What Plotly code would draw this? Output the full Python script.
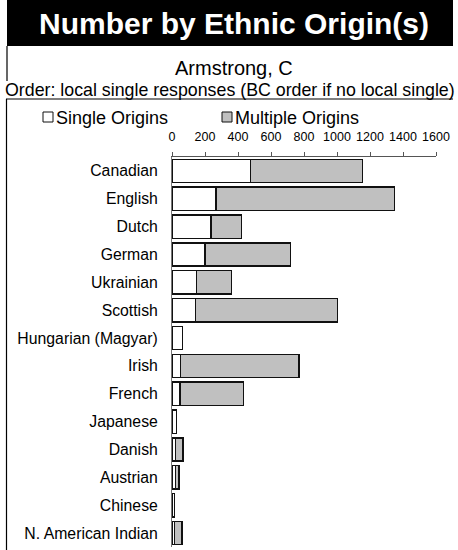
import plotly.graph_objects as go

categories = ["Canadian", "English", "Dutch", "German", "Ukrainian", "Scottish",
              "Hungarian (Magyar)", "Irish", "French", "Japanese", "Danish",
              "Austrian", "Chinese", "N. American Indian"]
single_origins = [475, 268, 236, 200, 149, 141, 64, 52, 48, 27, 20, 20, 15, 15]
multiple_origins = [680, 1079, 186, 519, 212, 861, 0, 719, 384, 0, 47, 22, 0, 45]
x_ticks = [0, 200, 400, 600, 800, 1000, 1200, 1400, 1600]

W_PX, H_PX = 458, 550
ML, MR, MT, MB = 172, 22, 157, 3
PW = W_PX - ML - MR
PH = H_PX - MT - MB


def px(x):
    return (x - ML) / PW


def py(y):
    return 1 - (y - MT) / PH


FONT = "Arial, Liberation Sans, sans-serif"

fig = go.Figure()
fig.add_trace(go.Bar(
    y=categories, x=single_origins, orientation="h", name="Single Origins",
    marker=dict(color="#FFFFFF", line=dict(color="#111111", width=1.5)),
    showlegend=False,
))
fig.add_trace(go.Bar(
    y=categories, x=multiple_origins, orientation="h", name="Multiple Origins",
    marker=dict(color="#C0C0C0", line=dict(color="#111111", width=1.5)),
    showlegend=False,
))

shapes = [
    dict(type="rect", xref="paper", yref="paper", x0=px(7), x1=px(453), y0=py(0), y1=py(46),
         fillcolor="#000000", line=dict(width=0), layer="below"),
    dict(type="line", xref="paper", yref="paper", x0=px(7), x1=px(7), y0=py(46), y1=py(81),
         line=dict(color="#000000", width=1.2)),
    dict(type="line", xref="paper", yref="paper", x0=px(6), x1=px(453), y0=py(99), y1=py(99),
         line=dict(color="#000000", width=1.2)),
    dict(type="line", xref="paper", yref="paper", x0=px(6.5), x1=px(6.5), y0=py(99), y1=py(550),
         line=dict(color="#000000", width=1.2)),
    # legend boxes
    dict(type="rect", xref="paper", yref="paper", x0=px(43), x1=px(53), y0=py(112), y1=py(122),
         fillcolor="#FFFFFF", line=dict(color="#111111", width=1)),
    dict(type="rect", xref="paper", yref="paper", x0=px(222), x1=px(232), y0=py(112), y1=py(122),
         fillcolor="#C0C0C0", line=dict(color="#111111", width=1)),
]

annotations = [
    dict(text="<b>Number by Ethnic Origin(s)</b>", x=px(234), y=py(24), xref="paper", yref="paper",
         xanchor="center", yanchor="middle", showarrow=False,
         font=dict(family=FONT, size=30, color="#FFFFFF")),
    dict(text="Armstrong, C", x=px(234), y=py(68), xref="paper", yref="paper",
         xanchor="center", yanchor="middle", showarrow=False,
         font=dict(family=FONT, size=20, color="#000000")),
    dict(text="Order: local single responses (BC order if no local single)", x=px(229.5), y=py(90),
         xref="paper", yref="paper", xanchor="center", yanchor="middle", showarrow=False,
         font=dict(family=FONT, size=17.8, color="#000000")),
    dict(text="Single Origins", x=px(54), y=py(118), xref="paper", yref="paper",
         xanchor="left", yanchor="middle", showarrow=False,
         font=dict(family=FONT, size=18, color="#000000")),
    dict(text="Multiple Origins", x=px(233), y=py(118), xref="paper", yref="paper",
         xanchor="left", yanchor="middle", showarrow=False,
         font=dict(family=FONT, size=18, color="#000000")),
]

fig.update_layout(
    width=W_PX, height=H_PX,
    margin=dict(l=ML, r=MR, t=MT, b=MB, pad=0),
    paper_bgcolor="#FFFFFF", plot_bgcolor="#FFFFFF",
    barmode="stack", bargap=0.165,
    shapes=shapes, annotations=annotations,
    font=dict(family=FONT, color="#000000"),
    xaxis=dict(range=[0, 1600], side="top", tickvals=x_ticks,
               ticktext=[str(v) for v in x_ticks],
               showgrid=False, zeroline=False, showline=True, linecolor="#555555", linewidth=1,
               ticks="outside", ticklen=4, tickcolor="#555555", ticklabelstandoff=6,
               tickfont=dict(family=FONT, size=12.5, color="#000000")),
    yaxis=dict(categoryorder="array", categoryarray=categories, autorange="reversed",
               showgrid=False, zeroline=False, showline=True, linecolor="#777777", linewidth=1,
               ticks="", ticklabelstandoff=10,
               tickfont=dict(family=FONT, size=15.8, color="#000000")),
)

fig.write_html("out.html", config={"displayModeBar": False},
               post_script="document.body.style.margin='0';document.body.style.overflow='hidden';")
